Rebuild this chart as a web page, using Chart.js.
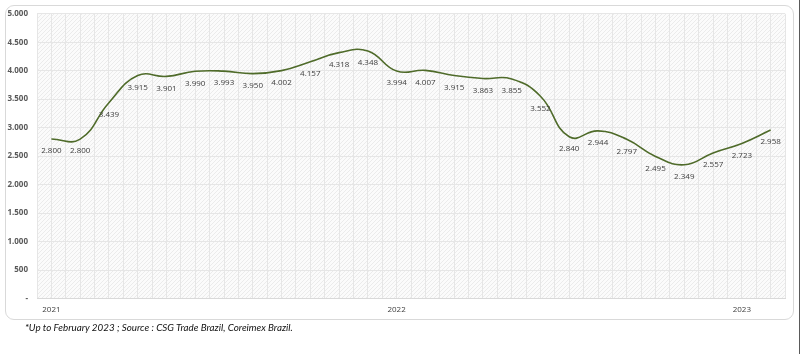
<!DOCTYPE html>
<html>
<head>
<meta charset="utf-8">
<script src="https://cdn.jsdelivr.net/npm/chart.js@4.4.0/dist/chart.umd.min.js"></script>
<style>
  html, body { margin: 0; padding: 0; background: #fff; }
  body { width: 800px; height: 354px; position: relative; overflow: hidden; }
  #frame { position: absolute; left: 5px; top: 5px; width: 787px; height: 313px; border: 1px solid #d9d9d9; border-radius: 9px; }
  #wrap { position: absolute; left: 0; top: 0; width: 800px; height: 354px; }
  #note { position: absolute; left: 25px; top: 321px; font-family: Lato, "Open Sans", sans-serif; font-style: italic; font-size: 9.8px; color: #111; white-space: nowrap; }
  #edge { position: absolute; right: 0; top: 0; width: 1px; height: 354px; background: #5a5a5a; }
</style>
</head>
<body>
<div id="frame"></div>
<div id="wrap"><canvas id="c" width="800" height="354"></canvas></div>
<div id="note">*Up to February 2023 ; Source : CSG Trade Brazil, Coreimex Brazil.</div>
<div id="edge"></div>
<script>
// Monthly values, Jan 2021 – Feb 2023
const months = ["Jan 2021","Feb 2021","Mar 2021","Apr 2021","May 2021","Jun 2021","Jul 2021","Aug 2021","Sep 2021","Oct 2021","Nov 2021","Dec 2021",
                "Jan 2022","Feb 2022","Mar 2022","Apr 2022","May 2022","Jun 2022","Jul 2022","Aug 2022","Sep 2022","Oct 2022","Nov 2022","Dec 2022",
                "Jan 2023","Feb 2023"];
const values = [2800, 2800, 3439, 3915, 3901, 3990, 3993, 3950, 4002, 4157, 4318, 4348,
                3994, 4007, 3915, 3863, 3855, 3552, 2840, 2944, 2797, 2495, 2349, 2557, 2723, 2958];
const yearLabels = { 0: "2021", 12: "2022", 24: "2023" };
const yTicks = [0, 500, 1000, 1500, 2000, 2500, 3000, 3500, 4000, 4500, 5000];

function fmt(v) {
  if (v === 0) return "-";
  const s = Math.round(v).toString();
  return s.replace(/\B(?=(\d{3})+(?!\d))/g, ".");
}

// hatched plot background
function makePattern(ctx) {
  const p = document.createElement('canvas');
  p.width = 4; p.height = 4;
  const g = p.getContext('2d');
  g.fillStyle = '#fbfbfb';
  g.fillRect(0, 0, 4, 4);
  g.fillStyle = '#ebebeb';
  for (let i = 0; i < 4; i++) g.fillRect(i, 3 - i, 1, 1);
  return ctx.createPattern(p, 'repeat');
}

const bgPlugin = {
  id: 'hatchBg',
  beforeDraw(chart) {
    const { ctx, chartArea: a } = chart;
    ctx.save();
    ctx.fillStyle = makePattern(ctx);
    ctx.fillRect(a.left, a.top, a.right - a.left, a.bottom - a.top);
    ctx.restore();
  }
};

const labelPlugin = {
  id: 'valueLabels',
  afterDatasetsDraw(chart) {
    const { ctx } = chart;
    const meta = chart.getDatasetMeta(0);
    ctx.save();
    ctx.font = '8px "Open Sans", sans-serif';
    ctx.fillStyle = '#404040';
    ctx.textAlign = 'center';
    ctx.textBaseline = 'middle';
    meta.data.forEach((pt, i) => {
      ctx.fillText(fmt(values[i]), pt.x, pt.y + 12);
    });
    ctx.restore();
  }
};

new Chart(document.getElementById('c'), {
  type: 'line',
  data: {
    datasets: [{
      data: values.map((v, i) => ({ x: i, y: v })),
      borderColor: '#4f6b2a',
      borderWidth: 1.6,
      pointRadius: 0,
      tension: 0.45,
      fill: false
    }]
  },
  options: {
    responsive: false,
    animation: false,
    events: [],
    layout: { padding: { top: 12, right: 15, bottom: 0, left: 0 } },
    plugins: { legend: { display: false }, tooltip: { enabled: false } },
    scales: {
      x: {
        type: 'linear',
        min: -0.5,
        max: 25.5,
        afterFit(s) { s.height = 55.5; },
        afterBuildTicks(s) {
          const t = [];
          for (let k = -0.5; k <= 25.5001; k += 0.5) t.push({ value: k });
          s.ticks = t;
        },
        ticks: {
          autoSkip: false,
          maxRotation: 0,
          padding: 6,
          font: { family: '"Open Sans", sans-serif', size: 8 },
          color: '#404040',
          callback(v) { return yearLabels[v] !== undefined ? yearLabels[v] : ''; }
        },
        grid: { color: '#e6e6e6', lineWidth: 1, drawTicks: false },
        border: { color: '#d9d9d9' }
      },
      y: {
        min: 0,
        max: 5000,
        afterFit(s) { s.width = 37; },
        afterBuildTicks(s) { s.ticks = yTicks.map(v => ({ value: v })); },
        ticks: {
          padding: 9,
          font: { family: '"Open Sans", sans-serif', size: 8, weight: 'bold' },
          color: '#595959',
          callback(v) { return fmt(v); }
        },
        grid: { color: '#e6e6e6', lineWidth: 1, drawTicks: false },
        border: { display: false }
      }
    }
  },
  plugins: [bgPlugin, labelPlugin]
});
</script>
</body>
</html>
